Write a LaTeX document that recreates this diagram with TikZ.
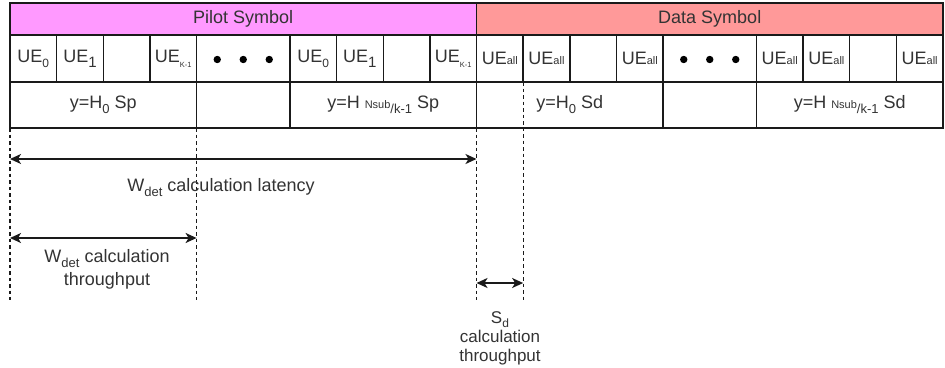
\documentclass[tikz,border=0pt]{standalone}
\usepackage{fontspec}
\setmainfont{Liberation Sans}
\usetikzlibrary{arrows.meta}

\definecolor{pilotpink}{HTML}{FF99FF}
\definecolor{datared}{HTML}{FF9999}
\definecolor{inkgrey}{HTML}{333333}
\definecolor{rulegrey}{HTML}{1A1A1A}

% lowered subscript pieces used in the cell labels
\newcommand\lowsub[2][12]{\raisebox{-0.28em}{\fontsize{#1}{#1}\selectfont #2}}
\newcommand\smallbit[1]{{\fontsize{11}{11}\selectfont #1}}

\def\cw{46.65}

\begin{document}
\begin{tikzpicture}[x=1pt,y=-1pt,
  every node/.style={text=inkgrey, font=\fontsize{18}{23}\selectfont},
  cellbox/.style={draw=rulegrey, line width=1.4pt, inner sep=0pt, outer sep=0pt,
                  anchor=north west, align=center},
  dashline/.style={draw=rulegrey, line width=1.3pt, dash pattern=on 3.5pt off 3pt},
  dimarrow/.style={draw=rulegrey, line width=1.6pt,
                   {Stealth[length=11pt,width=10pt,inset=3pt]}-{Stealth[length=11pt,width=10pt,inset=3pt]}},
  label/.style={align=center, inner sep=0pt},
  dot/.style={fill=black, draw=none}
]
\useasboundingbox (0,0) rectangle (945,367);

% header row
\node[cellbox, fill=pilotpink, minimum width={10*\cw pt}, minimum height=32pt] (pilot) at (10,3) {Pilot Symbol};
\node[cellbox, fill=datared, minimum width={10*\cw pt}, minimum height=32pt] (data) at ({10+10*\cw},3) {Data Symbol};

% per-user row
\foreach \c/\s/\n/\t in {
  0/1/pu0/{UE\lowsub{0}},
  1/1/pu1/{UE\lowsub[15]{1}},
  2/1/pu2/{},
  3/1/pu3/{UE\lowsub[7.5]{K-1}},
  4/2/pdots/{},
  6/1/pu4/{UE\lowsub{0}},
  7/1/pu5/{UE\lowsub[15]{1}},
  8/1/pu6/{},
  9/1/pu7/{UE\lowsub[7.5]{K-1}},
  10/1/du0/{UE\smallbit{all}},
  11/1/du1/{UE\smallbit{all}},
  12/1/du2/{},
  13/1/du3/{UE\smallbit{all}},
  14/2/ddots/{},
  16/1/du4/{UE\smallbit{all}},
  17/1/du5/{UE\smallbit{all}},
  18/1/du6/{},
  19/1/du7/{UE\smallbit{all}}}{
  \node[cellbox, minimum width={\s*\cw pt}, minimum height=47pt] (\n) at ({10+\c*\cw},35) {\t};
}

% ellipsis marks
\foreach \n in {pdots, ddots}{
  \foreach \dx in {-26,0,26}{
    \fill[dot] (\n.center) ++(\dx,1) circle (3.7pt);
  }
}

% received-signal row
\foreach \c/\s/\n/\t in {
  0/4/pr0/{y=H\lowsub[13]{0} Sp},
  4/2/pr1/{},
  6/4/pr2/{y=H \smallbit{Nsub}\lowsub[13]{/k-1} Sp},
  10/4/dr0/{y=H\lowsub[13]{0} Sd},
  14/2/dr1/{},
  16/4/dr2/{y=H \smallbit{Nsub}\lowsub[13]{/k-1} Sd}}{
  \node[cellbox, minimum width={\s*\cw pt}, minimum height=46pt] (\n) at ({10+\c*\cw},82) {\t};
}

% guide lines
\coordinate (g0b) at (10,300);
\coordinate (g1b) at ({10+4*\cw},300);
\coordinate (g2b) at ({10+10*\cw},300);
\coordinate (g3b) at ({10+11*\cw},300);
\draw[dashline] (pr0.south west) -- (g0b);
\draw[dashline] (pr0.south east) -- (g1b);
\draw[dashline] (dr0.south west) -- (g2b);
\draw[dashline] (du1.south west) -- (g3b);

% span arrows
\coordinate (lat-l) at (10,159);
\coordinate (lat-r) at ({10+10*\cw},159);
\coordinate (thr-l) at (10,238);
\coordinate (thr-r) at ({10+4*\cw},238);
\coordinate (sd-l) at ({10+10*\cw},283);
\coordinate (sd-r) at ({10+11*\cw},283);
\draw[dimarrow] (lat-l) -- (lat-r);
\draw[dimarrow] (thr-l) -- (thr-r);
\draw[dimarrow] (sd-l) -- (sd-r);

% span labels
\node[label] (latlabel) at (221,188) {W\lowsub[13]{det} calculation latency};
\node[label] (thrlabel) at (107,269) {W\lowsub[13]{det} calculation\\throughput};
\node[label, font=\fontsize{17}{19}\selectfont] (sdlabel) at (500,338) {S\lowsub[12]{d}\\calculation\\throughput};
\end{tikzpicture}
\end{document}
